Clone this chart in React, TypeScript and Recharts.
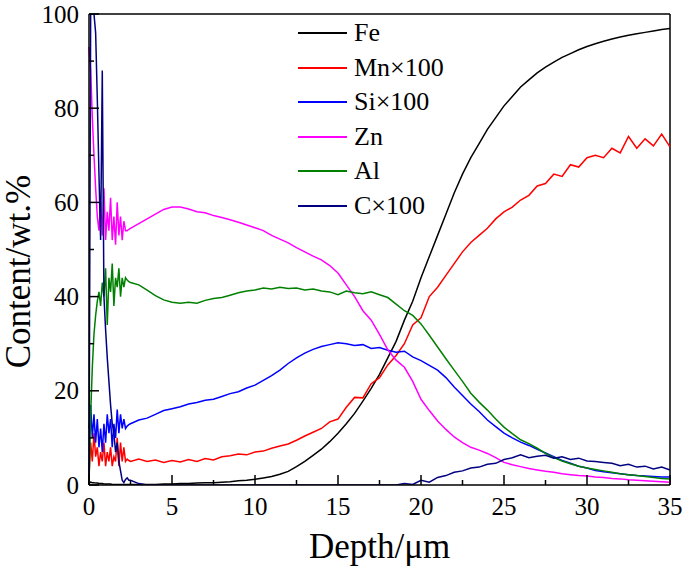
import { LineChart, Line, XAxis, YAxis, Legend, ReferenceLine } from 'recharts'

// Depth grid (µm): fine steps in the noisy surface layer, then 0.5 µm
const depth = [
  0, 0.1, 0.2, 0.3, 0.4, 0.5, 0.6, 0.7, 0.8, 0.9, 1, 1.1, 1.2, 1.3, 1.4, 1.5, 1.6, 1.7, 1.8, 1.9, 2, 2.1, 2.2, 2.3, 2.4,
  2.5, 3, 3.5, 4, 4.5, 5, 5.5, 6, 6.5, 7, 7.5, 8, 8.5, 9, 9.5, 10, 10.5, 11, 11.5, 12, 12.5, 13, 13.5, 14, 14.5, 15,
  15.5, 16, 16.5, 17, 17.5, 18, 18.5, 19, 19.5, 20, 20.5, 21, 21.5, 22, 22.5, 23, 23.5, 24, 24.5, 25, 25.5, 26, 26.5,
  27, 27.5, 28, 28.5, 29, 29.5, 30, 30.5, 31, 31.5, 32, 32.5, 33, 33.5, 34, 34.5, 35,
]

const fe = [
  0.4, 0.6, 0.5, 0.5, 0.4, 0.4, 0.3, 0.3, 0.3, 0.2, 0.2, 0.2, 0.2, 0.2, 0.1, 0.1, 0.1, 0.1, 0.1, 0.1, 0.1, 0.1, 0.1, 0.1, 0.1,
  0.1, 0.1, 0.1, 0.1, 0.2, 0.2, 0.3, 0.3, 0.4, 0.5, 0.5, 0.6, 0.7, 0.9, 1.0, 1.2, 1.5, 1.8, 2.3, 2.9, 3.9, 5.0, 6.3, 7.6,
  9.2, 11.0, 13.0, 15.2, 17.8, 20.5, 23.5, 27, 30.5, 35, 39, 44, 48.5, 53, 57.5, 62, 66, 69.5, 72.5, 75.5, 78, 80.5,
  82.5, 84.5, 86, 87.5, 88.7, 89.8, 90.8, 91.6, 92.4, 93.1, 93.7, 94.2, 94.7, 95.1, 95.5, 95.8, 96.1, 96.4, 96.7, 96.9,
]

const mn = [
  2, 9, 5, 11, 6, 8, 4, 7, 5, 9, 4, 7, 5, 8, 4, 6, 5, 10, 4, 9, 5, 8, 5, 5.5, 5.2,
  5.0, 5.5, 5.0, 5.3, 4.8, 5.2, 4.9, 5.4, 5.0, 5.6, 5.3, 6.0, 6.2, 6.6, 6.4, 7.0, 7.2, 7.8, 8.3, 8.7, 9.5, 10.4, 11.2,
  12.0, 13.4, 14.0, 16.5, 18.6, 18.5, 21.5, 22.8, 25.5, 27.5, 30.0, 34.0, 35.5, 40.0, 42.0, 44.5, 47.0, 49.5, 51.5,
  53.0, 54.5, 56.5, 58.0, 59.0, 60.5, 61.5, 63.5, 64.0, 66.0, 65.5, 68.0, 67.5, 69.5, 70.0, 69.5, 71.5, 70.5, 74.0,
  71.5, 73.5, 72.0, 74.5, 71.8,
]

const si = [
  12, 17, 10, 15, 9, 14, 8, 12, 7, 13, 9, 15, 11, 14, 8, 13, 10, 16, 11, 15, 12, 14, 12, 12.5, 12.8,
  13.0, 13.8, 14.2, 15.0, 15.8, 16.2, 16.6, 17.2, 17.5, 18.0, 18.2, 18.8, 19.4, 19.8, 20.6, 21.2, 22.2, 23.2, 24.4,
  25.8, 27.0, 28.0, 28.8, 29.4, 29.8, 30.2, 30.0, 29.6, 29.8, 29.0, 29.2, 28.6, 28.2, 28.4, 27.2, 26.4, 25.4, 24.4,
  22.8, 20.8, 19.0, 17.2, 15.6, 13.8, 12.4, 11.0, 10.0, 9.1, 8.4, 7.6, 6.8, 6.0, 5.2, 4.6, 4.0, 3.6, 3.1, 2.8, 2.6,
  2.4, 2.2, 2.0, 1.9, 1.8, 1.7, 1.7,
]

const zn = [
  93, 88, 78, 70, 63, 57, 54, 60, 53, 63, 52, 58, 54, 61, 52, 57, 51, 60, 53, 57, 52, 56, 54, 54, 54.3,
  54.5, 55.5, 56.5, 57.5, 58.5, 59.0, 59.0, 58.6, 58.0, 57.8, 57.2, 56.8, 56.3, 55.8, 55.2, 54.6, 54.0, 53.0, 52.2,
  51.4, 50.4, 49.5, 48.6, 47.8, 46.6, 45.0, 42.5, 40.0, 37.0, 35.0, 32.0, 28.7, 26.5, 25.0, 22.0, 18.2, 15.8, 13.6,
  11.8, 10.2, 9.0, 8.0, 7.4, 6.7, 5.8, 4.8, 4.3, 3.9, 3.5, 3.2, 2.9, 2.7, 2.4, 2.2, 2.0, 1.9, 1.7, 1.6, 1.4, 1.3, 1.1,
  1.0, 0.9, 0.8, 0.7, 0.6,
]

const al = [
  0, 15, 25, 32, 36, 39, 41, 38, 43, 40, 46, 34, 44, 41, 47, 38, 44, 42, 46, 40, 44, 42, 44, 43.5, 43.2,
  43.0, 42.5, 41.4, 40.2, 39.3, 38.8, 38.6, 38.8, 38.6, 39.2, 39.6, 39.8, 40.3, 40.8, 41.2, 41.4, 41.8, 41.6, 42.0,
  41.7, 41.8, 41.4, 41.6, 41.2, 41.0, 40.4, 41.2, 40.8, 40.6, 41.0, 40.4, 39.8, 38.4, 37.0, 36.0, 34.2, 31.8, 29.3,
  26.8, 24.4, 22.0, 19.5, 17.6, 15.9, 14.0, 12.3, 10.9, 9.6, 8.8, 7.8, 6.7, 5.8, 5.1, 4.5, 4.0, 3.6, 3.3, 3.0, 2.7,
  2.4, 2.2, 2.0, 1.8, 1.6, 1.4, 1.3,
]

const c = [
  0, 100, 100, 100, 96, 82, 66, 52, 88, 40, 33, 27, 22, 17, 13, 11, 7, 9, 5, 3, 1, 0.5, 1.2, 1.5, 1.0,
  1.0, 0.3, 0, 0, 0, 0, 0, 0, 0, 0, 0, 0, 0, 0, 0, 0, 0, 0, 0, 0, 0, 0, 0, 0, 0, 0, 0, 0, 0, 0, 0, 0, 0,
  0.3, 0.1, 1.0, 0.6, 1.6, 2.0, 2.7, 3.0, 3.6, 3.8, 4.4, 4.6, 5.4, 5.8, 6.4, 5.8, 6.1, 6.3, 5.7, 6.0, 5.4, 5.7, 5.1,
  5.0, 4.8, 4.6, 4.1, 4.4, 3.8, 4.0, 3.4, 3.8, 3.2,
]

const depthTicks = [0, 2.5, 5, 7.5, 10, 12.5, 15, 17.5, 20, 22.5, 25, 27.5, 30, 32.5, 35]
const contentTicks = [0, 10, 20, 30, 40, 50, 60, 70, 80, 90, 100]

const series = [
  { key: 'Fe', name: 'Fe', color: '#000000' },
  { key: 'Mn', name: 'Mn×100', color: '#ff0000' },
  { key: 'Si', name: 'Si×100', color: '#0000ff' },
  { key: 'Zn', name: 'Zn', color: '#ff00ff' },
  { key: 'Al', name: 'Al', color: '#008000' },
  { key: 'C', name: 'C×100', color: '#000080' },
]

const chartData = depth.map((d, i) => ({
  depth: d,
  Fe: fe[i],
  Mn: mn[i],
  Si: si[i],
  Zn: zn[i],
  Al: al[i],
  C: c[i],
}))

const FONT = "'Liberation Serif', Tinos, 'DejaVu Serif', serif"

// inward ticks, labels only on major ones
const DepthTick = ({ x, y, payload }: any) => {
  const major = payload.value % 5 === 0
  return (
    <g>
      <line x1={x} x2={x} y1={y} y2={y - (major ? 10 : 5)} stroke="#000" strokeWidth={1.5} />
      {major && (
        <text x={x} y={y + 30} textAnchor="middle" fontSize={25} style={{ fontFamily: FONT }} fill="#000">
          {payload.value}
        </text>
      )}
    </g>
  )
}

const ContentTick = ({ x, y, payload }: any) => {
  const major = payload.value % 20 === 0
  return (
    <g>
      <line x1={x} x2={x + (major ? 10 : 5)} y1={y} y2={y} stroke="#000" strokeWidth={1.5} />
      {major && (
        <text x={x - 10} y={y + 8.5} textAnchor="end" fontSize={25} style={{ fontFamily: FONT }} fill="#000">
          {payload.value}
        </text>
      )}
    </g>
  )
}

// keep legend rows in series order
const renderLegend = (props: any) => {
  const items = [...props.payload].sort(
    (a: any, b: any) =>
      series.findIndex((s) => s.name === a.value) - series.findIndex((s) => s.name === b.value),
  )
  return (
    <div style={{ fontFamily: FONT, fontSize: 26, color: '#000' }}>
      {items.map((entry: any) => (
        <div key={entry.value} style={{ display: 'flex', alignItems: 'center', height: 34.5 }}>
          <svg width={56} height={4} style={{ display: 'block' }}>
            <line x1={0} x2={49} y1={2} y2={2} stroke={entry.color} strokeWidth={2} />
          </svg>
          <span style={{ lineHeight: 1 }}>{entry.value}</span>
        </div>
      ))}
    </div>
  )
}

export default function App() {
  return (
    <div style={{ position: 'absolute', left: 0, top: 0, width: 685, height: 567, background: '#fff' }}>
      <LineChart width={685} height={567} data={chartData} margin={{ top: 14, right: 15, left: 0, bottom: 0 }}>
        <XAxis
          dataKey="depth"
          type="number"
          domain={[0, 35]}
          ticks={depthTicks}
          interval={0}
          height={82}
          tickSize={0}
          tickMargin={0}
          tickLine={false}
          tick={<DepthTick />}
          axisLine={{ stroke: '#000', strokeWidth: 1.5 }}
          label={{
            content: ({ viewBox }: any) => (
              <text
                x={viewBox.x + viewBox.width / 2}
                y={viewBox.y + 73}
                textAnchor="middle"
                fontSize={35}
                style={{ fontFamily: FONT }}
                fill="#000"
              >
                Depth/μm
              </text>
            ),
          }}
        />
        <YAxis
          type="number"
          domain={[0, 100]}
          allowDataOverflow
          ticks={contentTicks}
          interval={0}
          width={89}
          tickSize={0}
          tickMargin={0}
          tickLine={false}
          tick={<ContentTick />}
          axisLine={{ stroke: '#000', strokeWidth: 1.5 }}
          label={{
            content: ({ viewBox }: any) => {
              const cx = viewBox.x + 30
              const cy = viewBox.y + viewBox.height / 2 + 22
              return (
                <text
                  x={cx}
                  y={cy}
                  transform={`rotate(-90, ${cx}, ${cy})`}
                  textAnchor="middle"
                  fontSize={35}
                  style={{ fontFamily: FONT }}
                  fill="#000"
                >
                  Content/wt.%
                </text>
              )
            },
          }}
        />
        <ReferenceLine y={100} stroke="#000" strokeWidth={1.5} />
        <ReferenceLine x={35} stroke="#000" strokeWidth={1.5} />
        <Legend
          layout="vertical"
          align="center"
          verticalAlign="middle"
          content={renderLegend}
          wrapperStyle={{ left: 298, top: 16, width: 220 }}
        />
        {series.map((s) => (
          <Line
            key={s.key}
            type="linear"
            dataKey={s.key}
            name={s.name}
            stroke={s.color}
            strokeWidth={1.5}
            dot={false}
            activeDot={false}
            isAnimationActive={false}
          />
        ))}
      </LineChart>
    </div>
  )
}
